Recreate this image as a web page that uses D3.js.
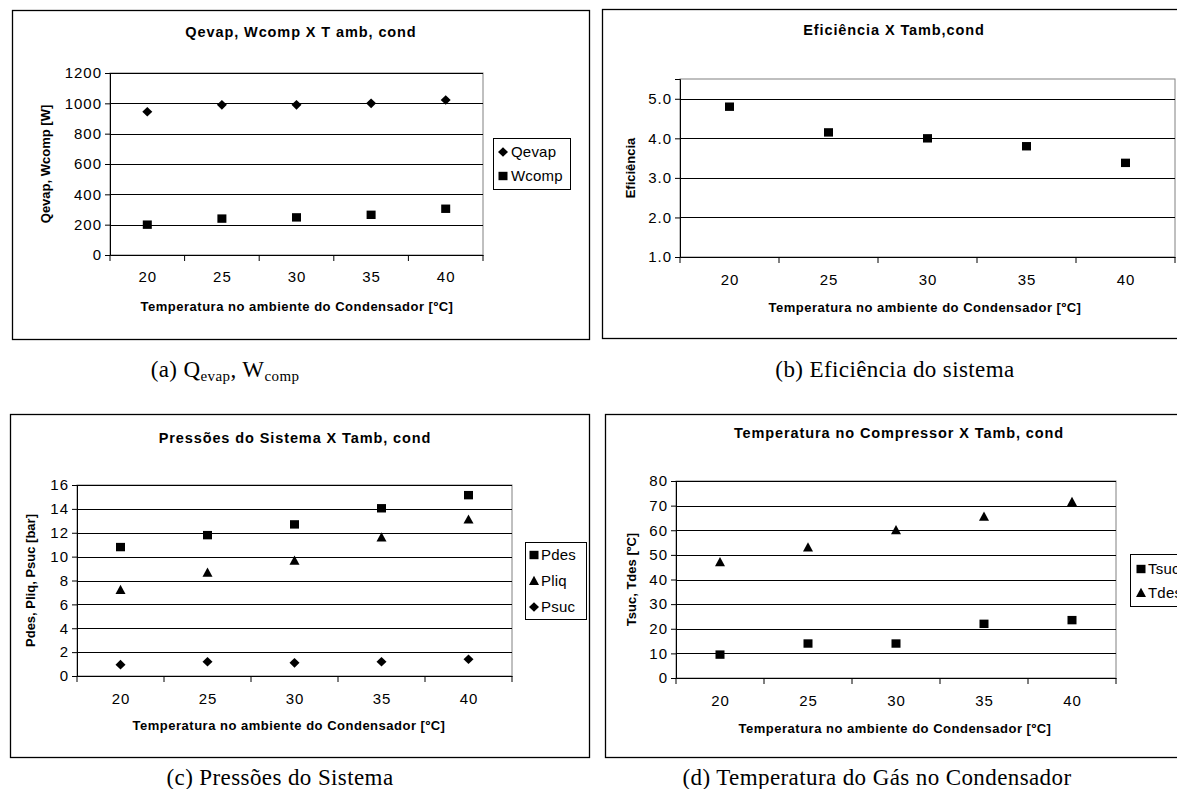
<!DOCTYPE html>
<html><head><meta charset="utf-8">
<script src="https://cdn.jsdelivr.net/npm/d3@7/dist/d3.min.js"></script>
<style>
body{margin:0;background:#fff;}
svg{display:block;}
text{font-family:Arial,"Liberation Sans",sans-serif;fill:#000;}
.cap{font-family:"Times New Roman","Liberation Serif",serif;}
</style></head>
<body>
<svg id="c" width="1177" height="789"></svg>
<script>
const categories = ["20","25","30","35","40"];
// (a)
const qevap = [945, 990, 990, 1000, 1022];
const wcomp = [200, 240, 248, 265, 305];
const ticksA = [0,200,400,600,800,1000,1200];
// (b)
const eficiencia = [4.8, 4.15, 4.0, 3.8, 3.38];
const ticksB = [1.0,2.0,3.0,4.0,5.0];
// (c)
const pdes = [10.8, 11.8, 12.7, 14.05, 15.15];
const pliq = [7.2, 8.65, 9.65, 11.6, 13.1];
const psuc = [0.95, 1.2, 1.1, 1.2, 1.4];
const ticksC = [0,2,4,6,8,10,12,14,16];
// (d)
const tsuc = [9.5, 14, 14, 22, 23.5];
const tdes = [47, 53, 60, 65.5, 71.5];
const ticksD = [0,10,20,30,40,50,60,70,80];

const svg = d3.select("#c");

function marker(g, type, x, y){
  if(type==="square"){
    g.append("rect").attr("x",x-4.5).attr("y",y-4.2).attr("width",9).attr("height",8.4).attr("fill","#000");
  } else if(type==="diamond"){
    g.append("path").attr("d",`M${x},${y-4.8}L${x+5},${y}L${x},${y+4.8}L${x-5},${y}Z`).attr("fill","#000");
  } else {
    g.append("path").attr("d",`M${x},${y-5.2}L${x+5},${y+4}L${x-5},${y+4}Z`).attr("fill","#000");
  }
}

function panel(o){
  const g = svg.append("g");
  g.append("rect").attr("x",o.frame[0]+0.5).attr("y",o.frame[1]+0.5)
    .attr("width",o.frame[2]-o.frame[0]).attr("height",o.frame[3]-o.frame[1])
    .attr("fill","none").attr("stroke","#000").attr("stroke-width",1.3);
  const [L,T,R,B] = o.plot;
  const x = d3.scaleBand().domain(categories).range([L,R]).paddingInner(0).paddingOuter(0);
  const y = d3.scaleLinear().domain(o.ydom).range([B,T]);
  g.append("rect").attr("x",L).attr("y",T).attr("width",R-L).attr("height",B-T)
    .attr("fill","#fff").attr("stroke","#808080").attr("stroke-width",1);
  g.append("g").selectAll("line").data(o.ticks.filter(t=>t!==o.ydom[0])).join("line")
    .attr("x1",L).attr("x2",R).attr("y1",d=>Math.round(y(d))+0.5).attr("y2",d=>Math.round(y(d))+0.5)
    .attr("stroke","#000").attr("stroke-width",1);
  const ya = d3.axisLeft(y).tickValues(o.ticks).tickSize(5).tickPadding(4).tickFormat(o.fmt);
  const yg = g.append("g").attr("transform",`translate(${L},0)`).call(ya);
  yg.select(".domain").attr("stroke","#000");
  yg.selectAll(".tick line").attr("stroke","#000");
  yg.selectAll("text").attr("font-size",15).attr("letter-spacing",1).attr("dx",1)
    .attr("font-family","Arial,'Liberation Sans',sans-serif").attr("fill","#000");
  const xa = d3.axisBottom(x).tickSize(0).tickPadding(o.xPad);
  const xg = g.append("g").attr("transform",`translate(0,${B})`).call(xa);
  xg.select(".domain").attr("stroke","#000");
  xg.selectAll("text").attr("font-size",15).attr("letter-spacing",1).attr("dx",0.5)
    .attr("font-family","Arial,'Liberation Sans',sans-serif").attr("fill","#000");
  const bounds = categories.map(c=>x(c)).concat([R]);
  g.append("g").selectAll("line").data(bounds).join("line")
    .attr("x1",d=>d).attr("x2",d=>d).attr("y1",B).attr("y2",B+6).attr("stroke","#000");
  g.append("text").attr("x",o.titleX).attr("y",o.titleY).attr("text-anchor","middle")
    .attr("font-weight","bold").attr("font-size",14.5).attr("letter-spacing",0.9).text(o.title);
  g.append("text").attr("x",o.xtX).attr("y",o.xtY).attr("text-anchor","middle")
    .attr("font-weight","bold").attr("font-size",13).attr("letter-spacing",0.5).text(o.xtitle);
  g.append("text").attr("transform",`translate(${o.ytX},${(T+B)/2}) rotate(-90)`).attr("text-anchor","middle")
    .attr("font-weight","bold").attr("font-size",13).text(o.ytitle);
  o.series.forEach(s=>{
    s.values.forEach((v,i)=>marker(g,s.type,x(categories[i])+x.bandwidth()/2,y(v)));
  });
  if(o.legend){
    const lg = o.legend;
    g.append("rect").attr("x",lg.box[0]+0.5).attr("y",lg.box[1]+0.5).attr("width",lg.box[2]-lg.box[0])
      .attr("height",lg.box[3]-lg.box[1]).attr("fill","#fff").attr("stroke","#000");
    o.series.forEach((s,i)=>{
      const yy = lg.y0 + i*lg.dy;
      marker(g,s.type,lg.mx,yy);
      g.append("text").attr("x",lg.tx).attr("y",yy).attr("dy","0.36em").attr("font-size",15).attr("letter-spacing",0.2).text(s.name);
    });
  }
}

const xtitle = "Temperatura no ambiente do Condensador [ºC]";

panel({frame:[12,10,589,339], plot:[110,73,483,255], ydom:[0,1200], ticks:ticksA, fmt:d3.format("d"),
  xPad:16, title:"Qevap, Wcomp X T amb, cond", titleX:301, titleY:37,
  xtitle, xtX:297, xtY:311, ytitle:"Qevap, Wcomp [W]", ytX:50,
  series:[{name:"Qevap",type:"diamond",values:qevap},{name:"Wcomp",type:"square",values:wcomp}],
  legend:{box:[493,138,570,189], mx:503, tx:511, y0:152, dy:24}});

panel({frame:[602,9,1185,338], plot:[680,79,1175,257], ydom:[1.0,5.5], ticks:ticksB, fmt:d3.format(".1f"),
  xPad:17, title:"Eficiência X Tamb,cond", titleX:894, titleY:35,
  xtitle, xtX:925, xtY:312, ytitle:"Eficiência", ytX:635,
  series:[{name:"Eficiência",type:"square",values:eficiencia}], legend:null});

panel({frame:[10,414,589,757], plot:[77,485,512,676], ydom:[0,16], ticks:ticksC, fmt:d3.format("d"),
  xPad:17, title:"Pressões do Sistema X Tamb, cond", titleX:295, titleY:443,
  xtitle, xtX:289, xtY:730, ytitle:"Pdes, Pliq, Psuc [bar]", ytX:35,
  series:[{name:"Pdes",type:"square",values:pdes},{name:"Pliq",type:"triangle",values:pliq},{name:"Psuc",type:"diamond",values:psuc}],
  legend:{box:[525,542,586,619], mx:534, tx:541, y0:555, dy:26}});

panel({frame:[605,414,1185,757], plot:[676,481,1116,678], ydom:[0,80], ticks:ticksD, fmt:d3.format("d"),
  xPad:17, title:"Temperatura no Compressor X Tamb, cond", titleX:899, titleY:438,
  xtitle, xtX:895, xtY:733, ytitle:"Tsuc, Tdes [ºC]", ytX:636,
  series:[{name:"Tsuc",type:"square",values:tsuc},{name:"Tdes",type:"triangle",values:tdes}],
  legend:{box:[1130,554,1190,606], mx:1141, tx:1148, y0:569, dy:24}});

// captions
const capA = svg.append("text").attr("class","cap").attr("x",225).attr("y",377).attr("text-anchor","middle").attr("font-size",23).attr("letter-spacing",0.4);
capA.append("tspan").text("(a) Q");
capA.append("tspan").attr("font-size",15).attr("dy",4).text("evap");
capA.append("tspan").attr("dy",-4).text(", W");
capA.append("tspan").attr("font-size",15).attr("dy",4).text("comp");
svg.append("text").attr("class","cap").attr("x",895).attr("y",377).attr("text-anchor","middle").attr("font-size",23).attr("letter-spacing",0.4).text("(b) Eficiência do sistema");
svg.append("text").attr("class","cap").attr("x",280).attr("y",785).attr("text-anchor","middle").attr("font-size",23).attr("letter-spacing",0.4).text("(c) Pressões do Sistema");
svg.append("text").attr("class","cap").attr("x",877).attr("y",785).attr("text-anchor","middle").attr("font-size",23).attr("letter-spacing",0.4).text("(d) Temperatura do Gás no Condensador");
</script>
</body></html>
